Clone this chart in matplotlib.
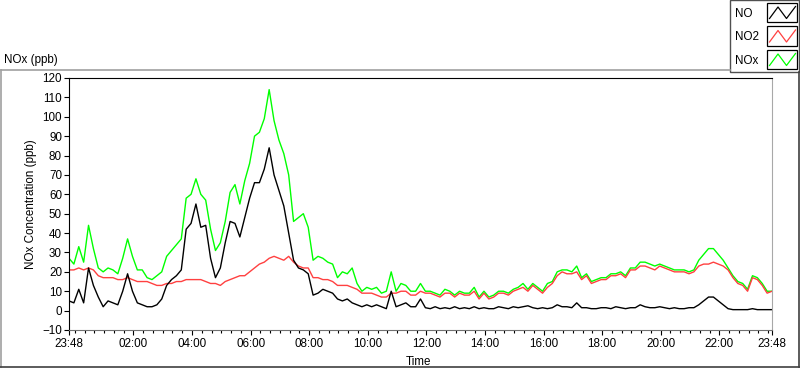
import matplotlib
matplotlib.use("Agg")
import matplotlib.pyplot as plt
import matplotlib.dates as mdates
import matplotlib.ticker as mticker
from matplotlib.lines import Line2D
from matplotlib.patches import Rectangle
from datetime import datetime, timedelta

plt.rcParams['font.family'] = ['Liberation Sans', 'DejaVu Sans']
FS = 8.4

# readings every 10 minutes, 23:48 -> 23:48 next day
start = datetime(2015, 3, 1, 23, 48)
step_min = 10

no = [5, 4, 11, 4, 22, 13, 7, 2, 5, 4, 3, 10, 19, 10, 4, 3, 2, 2, 3, 6, 13, 16, 18, 21,
      42, 45, 55, 43, 44, 27, 17, 22, 35, 46, 45, 38, 48, 58, 66, 66, 73, 84, 70, 62, 54, 40, 26, 22, 21,
      19, 8, 9, 11, 10, 9, 6, 5, 6, 4, 3, 2, 3, 2, 3, 2, 1, 10, 2, 3, 4, 2, 2,
      6, 1.5, 1, 2, 1, 1.5, 1, 2, 1, 1.5, 1, 2, 1, 1.5, 1, 1, 2, 1.5, 1, 2, 1.5, 2, 2.5, 1.5,
      1, 1.5, 1, 1.5, 3, 2, 2, 1.5, 4, 1.5, 1.5, 1, 1, 1.5, 1.5, 1, 2, 1.5, 1, 1.5, 1.5, 3, 2, 1.5,
      1.5, 2, 1.5, 1, 1.5, 1, 1, 1.5, 1.5, 3, 5, 7, 7, 5, 3, 1, 0.5, 0.5, 0.5, 0.5, 1, 0.5, 0.5, 0.5, 0.5]

no2 = [21, 21, 22, 21, 22, 21, 18, 17, 17, 17, 16, 16, 17, 16, 15, 15, 15, 14, 13, 13, 14, 14, 15, 15,
       16, 16, 16, 16, 15, 14, 14, 13, 15, 16, 17, 18, 18, 20, 22, 24, 25, 27, 28, 27, 26, 28, 25, 23, 22,
       22, 17, 17, 16, 16, 15, 13, 13, 13, 12, 11, 9, 9, 9, 8, 7, 7, 9, 9, 10, 10, 8, 8,
       10, 9, 9, 8, 7, 9, 9, 7, 9, 8, 8, 10, 6, 9, 6, 7, 9, 9, 8, 10, 11, 12, 10, 13,
       11, 9, 12, 14, 18, 20, 19, 19, 20, 16, 18, 14, 15, 16, 16, 18, 18, 19, 17, 21, 21, 23, 23, 22,
       21, 23, 22, 21, 20, 20, 20, 19, 20, 23, 24, 24, 25, 24, 23, 21, 17, 14, 13, 10, 17, 16, 13, 9, 10]

nox = [27, 24, 33, 25, 44, 32, 22, 20, 22, 21, 19, 27, 37, 28, 21, 21, 17, 16, 18, 20, 28, 31, 34, 37,
       58, 60, 68, 60, 57, 42, 31, 35, 46, 61, 65, 55, 67, 76, 90, 92, 99, 114, 98, 88, 81, 70, 46, 48, 50,
       43, 26, 28, 27, 25, 24, 17, 20, 19, 22, 14, 10, 12, 11, 12, 9, 10, 20, 10, 14, 13, 10, 10,
       14, 10, 10, 9, 8, 11, 10, 8, 10, 9, 9, 12, 7, 10, 7, 8, 10, 10, 9, 11, 12, 14, 11, 14,
       12, 10, 14, 15, 20, 21, 21, 20, 23, 17, 19, 15, 16, 17, 17, 19, 19, 20, 18, 22, 22, 25, 25, 24,
       23, 24, 23, 22, 21, 21, 21, 20, 21, 26, 29, 32, 32, 29, 26, 22, 18, 15, 14, 11, 18, 17, 14, 10, 10]

series_names = ['NO', 'NO2', 'NOx']
series_colors = ['#000000', '#ff4040', '#00ff00']

times = [start + timedelta(minutes=step_min * i) for i in range(len(no))]
end = start + timedelta(hours=24)

W, H = 800, 369
fig = plt.figure(figsize=(W / 100, H / 100), dpi=100)
fig.patch.set_facecolor('white')

def fx(x):
    return x / W

def fy(y):
    return 1 - y / H

ax = fig.add_axes([fx(69), fy(330), fx(772) - fx(69), fy(78) - fy(330)])

ax.plot(times, nox, color=series_colors[2], lw=1.0)
ax.plot(times, no2, color=series_colors[1], lw=1.0)
ax.plot(times, no, color=series_colors[0], lw=1.0)

ax.set_xlim(start, end)
ax.set_ylim(-10, 120)
ax.yaxis.set_major_locator(mticker.MultipleLocator(10))

major = [start] + [start.replace(hour=0, minute=0) + timedelta(days=1, hours=h) for h in range(2, 24, 2)] + [end]
ax.xaxis.set_major_locator(mticker.FixedLocator(mdates.date2num(major)))
ax.xaxis.set_major_formatter(mdates.DateFormatter('%H:%M'))
ax.xaxis.set_minor_locator(mdates.MinuteLocator(byminute=[0, 20, 40]))

ax.tick_params(axis='y', which='major', length=3.6, width=0.8, pad=1.5, labelsize=FS, colors='black')
ax.tick_params(axis='x', which='major', length=3.6, width=0.8, pad=2.2, labelsize=FS, colors='black')
ax.tick_params(axis='x', which='minor', length=2.2, width=0.8)

for side in ['left', 'top']:
    ax.spines[side].set_color('black')
ax.spines['bottom'].set_color('#707070')
ax.spines['right'].set_color('#a8a8a8')
for s in ax.spines.values():
    s.set_linewidth(0.8)

fig.text(fx(31), fy(204), 'NOx Concentration (ppb)', rotation=90, ha='center', va='center', fontsize=FS)
fig.text(fx(418), fy(365), 'Time', ha='center', va='baseline', fontsize=FS)
fig.text(fx(4), fy(63), 'NOx (ppb)', ha='left', va='baseline', fontsize=FS)

# panel frame
frame = [((0.5, 730), (69.5, 69.5), '#a0a0a0'),
         ((0.5, 0.5), (69.5, 367), '#a0a0a0'),
         ((0, 800), (367, 367), '#404040'),
         ((799, 799), (72, 367), '#404040')]
for xs, ys, c in frame:
    fig.add_artist(Line2D([fx(v) for v in xs], [fy(v) for v in ys], color=c, lw=1.2,
                          transform=fig.transFigure))

# legend
fig.add_artist(Rectangle((fx(730), fy(72)), fx(799) - fx(730), fy(0) - fy(72),
                         transform=fig.transFigure, facecolor='white', edgecolor='#505050', lw=1.0))
for i, (name, c) in enumerate(zip(series_names, series_colors)):
    top = 3 + 23.5 * i
    fig.text(fx(735), fy(top + 14), name, ha='left', va='baseline', fontsize=FS)
    fig.add_artist(Rectangle((fx(767), fy(top + 19)), fx(797) - fx(767), fy(top) - fy(top + 19),
                             transform=fig.transFigure, facecolor='white', edgecolor='black', lw=0.9))
    zx = [769.5, 778, 786.5, 795.5]
    zy = [top + 15.5, top + 4, top + 15.5, top + 3.5]
    fig.add_artist(Line2D([fx(v) for v in zx], [fy(v) for v in zy], color=c, lw=0.9,
                          transform=fig.transFigure))

fig.savefig('out.png', dpi=100, facecolor='white')
